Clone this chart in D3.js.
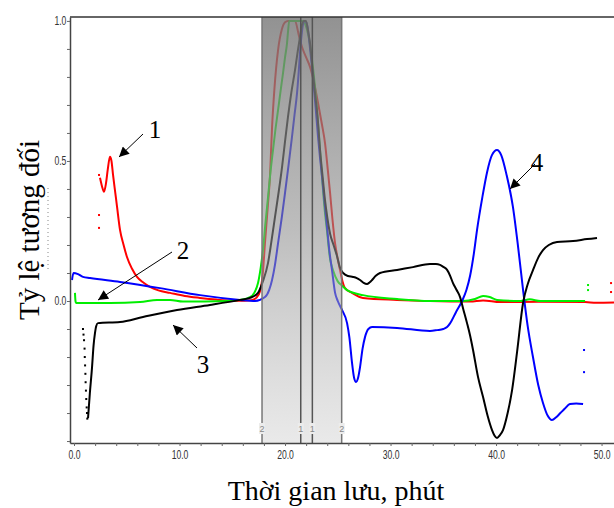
<!DOCTYPE html>
<html><head><meta charset="utf-8">
<script src="https://cdn.jsdelivr.net/npm/d3@7"></script>
<style>body{margin:0;background:#fff}svg{display:block}</style>
</head><body>
<script>
// ---- data ----
const xTicksMajor = [0, 10, 20, 30, 40, 50];
const yTicksMajor = [0, 0.5, 1.0];
const bandLines = [17.82, 21.49, 22.59, 25.37];
const bandLabels = ["2", "1", "1", "2"];
const series1Red = [[2.46,0.44],[2.65,0.41],[2.84,0.39],[3.03,0.42],[3.2,0.47],[3.41,0.515],[3.55,0.5],[3.70,0.45],[3.9,0.39],[4.08,0.336],[4.36,0.254],[4.7,0.2],[5.02,0.157],[5.5,0.115],[5.97,0.086],[6.6,0.065],[7.2,0.05],[8.0,0.038],[9.1,0.029],[10.5,0.018],[11.94,0.011],[13.5,0.005],[15.45,0.001],[16.8,0.003],[17.3,0.012],[17.63,0.035],[17.9,0.1],[18.1,0.207],[18.35,0.33],[18.58,0.45],[18.77,0.62],[19.0,0.76],[19.34,0.896],[19.7,0.97],[20.0,0.995],[20.28,1.0],[20.95,1.0],[21.3,0.95],[21.61,0.907],[22.0,0.87],[22.37,0.836],[22.75,0.78],[23.13,0.707],[23.5,0.63],[23.79,0.564],[24.05,0.47],[24.27,0.386],[24.5,0.29],[24.74,0.207],[25.0,0.15],[25.21,0.111],[25.45,0.07],[25.69,0.046],[26.35,0.029],[27.39,0.011],[30.62,0.004],[33.74,0.0],[37.54,-0.002],[38.77,0.002],[40.4,-0.004],[44.0,-0.003],[48.44,-0.004],[49.5,-0.006],[51.18,-0.005]];
const series1RedDots = [[2.37,0.45],[2.37,0.307],[2.37,0.261],[50.9,0.064],[50.9,0.032]];
const series2Green = [[0.09,0.029],[0.14,0.0],[0.19,-0.007],[0.85,-0.007],[3.41,-0.007],[6.26,-0.004],[7.87,0.004],[9.1,0.004],[10.33,-0.002],[14.5,0.0],[15.73,0.004],[16.68,0.014],[17.1,0.03],[17.44,0.064],[17.7,0.12],[17.91,0.182],[18.15,0.28],[18.39,0.371],[18.62,0.46],[18.86,0.539],[19.1,0.615],[19.34,0.682],[19.58,0.75],[19.81,0.814],[20.0,0.87],[20.19,0.921],[20.28,0.96],[20.4,1.0],[21.71,1.0],[21.9,0.99],[22.2,0.95],[22.56,0.861],[22.8,0.78],[23.03,0.682],[23.27,0.56],[23.51,0.44],[23.75,0.33],[23.98,0.25],[24.27,0.15],[24.55,0.11],[25.0,0.07],[25.4,0.055],[25.88,0.039],[27.39,0.021],[30.62,0.007],[33.74,0.0],[36.87,0.0],[38.0,0.007],[38.77,0.018],[39.4,0.014],[40.09,0.004],[42.3,0.0],[43.2,0.006],[44.2,0.0],[48.44,0.0]];
const series2GreenDots = [[48.72,0.057],[48.72,0.039]];
const series3Black = [[1.33,-0.418],[1.5,-0.33],[1.71,-0.236],[1.85,-0.16],[1.99,-0.114],[2.1,-0.09],[2.27,-0.079],[4.36,-0.075],[6.54,-0.057],[9.76,-0.032],[12.89,-0.014],[15.73,0.004],[16.68,0.011],[17.44,0.029],[17.9,0.07],[18.39,0.136],[18.7,0.21],[19.05,0.3],[19.4,0.39],[19.72,0.479],[20.0,0.57],[20.28,0.657],[20.6,0.745],[20.95,0.825],[21.2,0.89],[21.42,0.943],[21.6,0.985],[21.8,1.0],[21.99,1.0],[22.2,0.96],[22.37,0.921],[22.6,0.83],[22.84,0.743],[23.1,0.65],[23.32,0.54],[23.6,0.43],[23.79,0.36],[24.0,0.3],[24.27,0.24],[24.6,0.2],[24.93,0.16],[25.2,0.12],[25.5,0.1],[25.97,0.089],[26.45,0.086],[26.8,0.082],[27.11,0.075],[27.45,0.065],[27.77,0.061],[28.0,0.066],[28.25,0.075],[28.6,0.09],[29.0,0.1],[30.62,0.111],[32.13,0.121],[33.74,0.132],[34.3,0.132],[34.69,0.129],[35.0,0.122],[35.36,0.111],[35.65,0.09],[35.92,0.064],[36.25,0.04],[36.59,0.014],[36.9,-0.03],[37.25,-0.079],[37.55,-0.125],[37.82,-0.175],[38.29,-0.271],[38.77,-0.343],[39.2,-0.41],[39.62,-0.461],[39.85,-0.48],[40.09,-0.489],[40.35,-0.48],[40.66,-0.461],[41.1,-0.4],[41.52,-0.318],[42.0,-0.18],[42.56,-0.007],[43.0,0.06],[43.51,0.111],[44.0,0.155],[44.45,0.182],[45.0,0.2],[45.78,0.211],[47.3,0.214],[48.63,0.221],[49.57,0.225]];
const series3BlackDots = [[0.85,-0.1],[0.9,-0.12],[0.95,-0.14],[1.0,-0.17],[1.02,-0.2],[1.05,-0.23],[1.08,-0.26],[1.1,-0.29],[1.13,-0.32],[1.16,-0.35],[1.2,-0.38],[1.23,-0.4],[1.26,-0.42]];
const series4Blue = [[-0.19,0.075],[-0.05,0.1],[0.38,0.096],[0.85,0.086],[1.52,0.082],[4.36,0.068],[8.15,0.046],[11.94,0.021],[15.73,0.004],[17.16,0.0],[18.1,0.014],[18.5,0.04],[18.77,0.075],[19.05,0.13],[19.34,0.207],[19.7,0.3],[20.0,0.386],[20.35,0.49],[20.66,0.586],[20.9,0.665],[21.14,0.743],[21.3,0.82],[21.42,0.886],[21.6,0.96],[21.8,1.0],[21.99,0.996],[22.18,0.968],[22.4,0.89],[22.65,0.8],[22.9,0.69],[23.13,0.586],[23.32,0.51],[23.51,0.443],[23.75,0.35],[23.98,0.264],[24.2,0.18],[24.45,0.111],[24.74,0.03],[25.0,0.0],[25.4,-0.032],[25.88,-0.079],[26.1,-0.13],[26.35,-0.221],[26.55,-0.275],[26.73,-0.289],[26.92,-0.275],[27.11,-0.236],[27.35,-0.17],[27.58,-0.129],[27.9,-0.1],[28.25,-0.093],[30.62,-0.096],[33.74,-0.107],[34.41,-0.104],[35.0,-0.1],[35.36,-0.093],[35.64,-0.08],[36.2,-0.04],[36.78,0.0],[37.2,0.04],[37.54,0.09],[37.9,0.17],[38.2,0.254],[38.7,0.37],[39.15,0.46],[39.6,0.52],[40.09,0.539],[40.5,0.52],[41.0,0.45],[41.6,0.336],[42.1,0.19],[42.56,0.04],[43.0,-0.09],[43.5,-0.2],[44.0,-0.3],[44.45,-0.364],[44.9,-0.41],[45.3,-0.425],[45.7,-0.415],[46.1,-0.4],[46.5,-0.385],[47.0,-0.368],[47.6,-0.366],[48.25,-0.368]];
const series4BlueDots = [[48.34,-0.175],[48.34,-0.254]];
const annotations = [
  {label:"1", tx:155, ty:138, x1:143, y1:134, x2:119, y2:157},
  {label:"2", tx:183, ty:259, x1:172, y1:252, x2:98, y2:300},
  {label:"3", tx:203, ty:373, x1:197, y1:348, x2:173, y2:325},
  {label:"4", tx:537, ty:171, x1:535, y1:164, x2:510, y2:189}
];
const yTitle = "Tỷ lệ tương đối";
const xTitle = "Thời gian lưu, phút";

// ---- layout ----
const W = 614, H = 508;
const L = 70, R = 614, T = 17, B = 443;
const x = d3.scaleLinear().domain([-0.38, 51.18]).range([L, R]);
const y = d3.scaleLinear().domain([-0.507, 1.014]).range([B, T]);

const svg = d3.select("body").append("svg").attr("width", W).attr("height", H);
const defs = svg.append("defs");
defs.append("clipPath").attr("id","clip").append("rect").attr("x",L).attr("y",T).attr("width",R-L).attr("height",B-T);
const grad = defs.append("linearGradient").attr("id","bandGrad").attr("x1",0).attr("y1",0).attr("x2",0).attr("y2",1);
grad.append("stop").attr("offset","0%").attr("stop-color","#7a7a7a").attr("stop-opacity",0.82);
grad.append("stop").attr("offset","50%").attr("stop-color","#8e8e8e").attr("stop-opacity",0.58);
grad.append("stop").attr("offset","100%").attr("stop-color","#cfcfcf").attr("stop-opacity",0.45);
const mk = defs.append("marker").attr("id","arrow").attr("viewBox","0 0 10 10").attr("refX",10).attr("refY",5)
  .attr("markerWidth",13).attr("markerHeight",10).attr("markerUnits","userSpaceOnUse").attr("orient","auto");
mk.append("path").attr("d","M0,0 L10,5 L0,10 Z").attr("fill","#000");

// curves
const plot = svg.append("g").attr("clip-path","url(#clip)");
const line = d3.line().x(d=>x(d[0])).y(d=>y(d[1])).curve(d3.curveMonotoneX);
const curves = [
  {d:series1Red, c:"#ff0000", dots:series1RedDots},
  {d:series2Green, c:"#00ee00", dots:series2GreenDots},
  {d:series4Blue, c:"#0000ff", dots:series4BlueDots},
  {d:series3Black, c:"#000000", dots:series3BlackDots}
];
curves.forEach(s=>{
  plot.append("path").attr("d", line(s.d)).attr("fill","none").attr("stroke", s.c).attr("stroke-width",2);
  plot.selectAll(null).data(s.dots).enter().append("rect")
    .attr("x", d=>x(d[0])-1).attr("y", d=>y(d[1])-1).attr("width",2).attr("height",2).attr("fill", s.c);
});

// shaded band (overlay)
plot.append("rect").attr("x", x(bandLines[0])).attr("y", T).attr("width", x(bandLines[3])-x(bandLines[0])).attr("height", B-T)
  .attr("fill","url(#bandGrad)");
bandLines.forEach((b,i)=>{
  svg.append("line").attr("x1",x(b)).attr("x2",x(b)).attr("y1",T).attr("y2",B)
    .attr("stroke", (i===1||i===2)?"#555":"#777").attr("stroke-width",1.5);
  svg.append("rect").attr("x",x(b)-3).attr("y",423).attr("width",6).attr("height",11).attr("fill","#ececec");
  svg.append("text").attr("x",x(b)).attr("y",432).attr("text-anchor","middle")
    .attr("font-family","Liberation Sans, Arial, sans-serif").attr("font-size",9).attr("fill","#888").text(bandLabels[i]);
});

// frame
svg.append("line").attr("x1",L).attr("x2",R).attr("y1",T).attr("y2",T).attr("stroke","#333").attr("stroke-width",1.5);

// axes
const tickFont = "Liberation Sans, Arial, sans-serif";
const xAxis = d3.axisBottom(x).tickValues(d3.range(0, 51, 2)).tickSize(3).tickSizeOuter(0)
  .tickFormat(d => xTicksMajor.includes(d) ? d3.format(".1f")(d) : "");
const gx = svg.append("g").attr("transform",`translate(0,${B})`).call(xAxis);
gx.select(".domain").attr("stroke","#444").attr("stroke-width",1.5);
gx.selectAll(".tick line").attr("stroke","#666");
gx.selectAll("text").attr("font-family",tickFont).attr("font-size",12).attr("fill","#333").attr("dy","0.85em")
  .attr("transform","scale(0.72,1)");

const yAxis = d3.axisLeft(y).tickValues(d3.range(-5, 11).map(v=>v/10)).tickSize(3).tickSizeOuter(0)
  .tickFormat(d => yTicksMajor.some(m=>Math.abs(m-d)<1e-9) ? d3.format(".1f")(d) : "");
const gy = svg.append("g").attr("transform",`translate(${L},0)`).call(yAxis);
gy.select(".domain").attr("stroke","#444").attr("stroke-width",1.5);
gy.selectAll(".tick line").attr("stroke","#666");
gy.selectAll("text").attr("font-family",tickFont).attr("font-size",12).attr("fill","#333")
  .attr("x",-5).attr("transform","scale(0.72,1)");

// titles
svg.append("text").attr("transform","translate(39,230) rotate(-90)").attr("text-anchor","middle")
  .attr("font-family","Liberation Serif, Times New Roman, serif").attr("font-size",29).attr("fill","#000").text(yTitle);
svg.append("text").attr("x",336).attr("y",500).attr("text-anchor","middle")
  .attr("font-family","Liberation Serif, Times New Roman, serif").attr("font-size",28).attr("fill","#000").text(xTitle);

// faint dotted artefact line left of axis
svg.append("line").attr("x1",48).attr("x2",48).attr("y1",188).attr("y2",270)
  .attr("stroke","#888").attr("stroke-width",1).attr("stroke-dasharray","1,3");

// annotations
annotations.forEach(a=>{
  svg.append("line").attr("x1",a.x1).attr("y1",a.y1).attr("x2",a.x2).attr("y2",a.y2)
    .attr("stroke","#000").attr("stroke-width",1).attr("marker-end","url(#arrow)");
  svg.append("text").attr("x",a.tx).attr("y",a.ty).attr("text-anchor","middle")
    .attr("font-family","Liberation Serif, Times New Roman, serif").attr("font-size",25).attr("fill","#000").text(a.label);
});
</script>
</body></html>
